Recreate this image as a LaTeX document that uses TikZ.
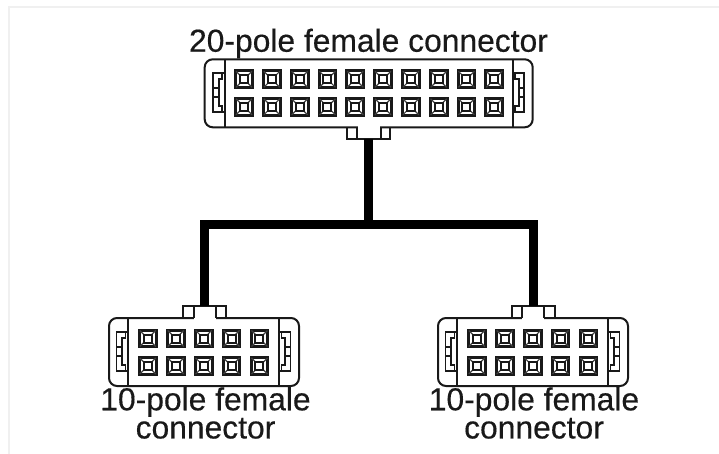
\documentclass[tikz,border=0pt]{standalone}
\usepackage{fontspec}
\setmainfont[FakeBold=0.4]{Liberation Sans}
\tikzset{
  x=1pt,y=-1pt,
  line/.style={draw=black!90,line width=2pt},
  body/.style={line,rectangle,rounded corners=8pt,fill=white,inner sep=0pt,outer sep=0pt},
  tabbox/.style={line,rectangle,fill=white,inner sep=0pt,outer sep=0pt},
  wire/.style={draw=black,line width=9pt},
  caption/.style={inner sep=0pt,font=\fontsize{31.8}{26}\selectfont,align=center,text=black!90},
}
% pin: outer square, inner square and corner diagonals
\newcommand{\pinat}[2]{%
  \draw[line,line width=3pt] (#1-8.4,#2-8.4) rectangle (#1+8.4,#2+8.4);
  \draw[black!75,line width=1.2pt] (#1-8,#2-8) -- (#1+8,#2+8) (#1-8,#2+8) -- (#1+8,#2-8);
  \draw[line,fill=white,line width=2pt] (#1-4,#2-4) rectangle (#1+4,#2+4);
}
% side latches: #1 inner wall x, #2 direction (+1 left, -1 right), #3 top y, #4 bottom y
\newcommand{\latch}[4]{%
  \draw[line,line width=1.9pt] (#1,#3) -- (#1+#2*11.5,#3) -- (#1+#2*11.5,#4) -- (#1,#4);
  \draw[line,line width=1.9pt] (#1+#2*2.5,#3) -- (#1+#2*2.5,#3+6) -- (#1+#2*6,#3+6) -- (#1+#2*6,#4-6) -- (#1+#2*2.5,#4-6) -- (#1+#2*2.5,#4)
     (#1+#2*11.5,#3+15) -- (#1+#2*6,#3+15) (#1+#2*11.5,#4-15) -- (#1+#2*6,#4-15);
}
\begin{document}
\begin{tikzpicture}
\useasboundingbox (0,0) rectangle (719,454);
\fill[white] (0,0) rectangle (719,454);
\draw[black!6,line width=2pt] (9,454) -- (9,7) -- (719,7);

\coordinate (junction) at (368.5,224.5);

% top connector
\node[tabbox,minimum width=43pt,minimum height=14pt] (toptab) at (368.5,132) {};
\node[body,minimum width=328pt,minimum height=68pt] (top) at (368.7,93.3) {};
\draw[line] (224.6,59.3) -- (224.6,127.3) (512.7,59.3) -- (512.7,127.3);
\fill[white] (358,120) rectangle (380,129);
\draw[line] (357,127.3) -- (357,138) (380.5,127.3) -- (380.5,138);
\foreach \i in {0,...,9} {
  \pinat{244+27.8*\i}{79.3}
  \pinat{244+27.8*\i}{106.8}
}
\latch{224.6}{-1}{73}{112}
\latch{512.7}{1}{73}{112}

% left connector
\node[tabbox,minimum width=43pt,minimum height=14pt] (lefttab) at (204.5,312.5) {};
\node[body,minimum width=190pt,minimum height=68pt] (left) at (204,352) {};
\draw[line] (128,318) -- (128,386) (279,318) -- (279,386);
\fill[white] (194,316) rectangle (216,325);
\draw[line] (194,306) -- (194,318) (216,306) -- (216,318);
\foreach \i in {0,...,4} {
  \pinat{147.8+27.9*\i}{338.5}
  \pinat{147.8+27.9*\i}{366}
}
\latch{128}{-1}{332}{371}
\latch{279}{1}{332}{371}

% right connector
\node[tabbox,minimum width=43pt,minimum height=14pt] (righttab) at (533,312.5) {};
\node[body,minimum width=190pt,minimum height=68pt] (right) at (533,352) {};
\draw[line] (457,318) -- (457,386) (608,318) -- (608,386);
\fill[white] (522,316) rectangle (544,325);
\draw[line] (522,306) -- (522,318) (544,306) -- (544,318);
\foreach \i in {0,...,4} {
  \pinat{476.8+27.9*\i}{338.5}
  \pinat{476.8+27.9*\i}{366}
}
\latch{457}{-1}{332}{371}
\latch{608}{1}{332}{371}

% wires
\draw[wire] (toptab.south) -- (junction);
\draw[wire,line join=miter] (lefttab.north) |- (junction) -| (righttab.north);

% labels
\node[caption] (toplabel) at (368.5,43.5) {20-pole female connector};
\node[caption] (leftlabel) at (205.5,413) {10-pole female\\connector};
\node[caption] (rightlabel) at (534,413) {10-pole female\\connector};
\end{tikzpicture}
\end{document}
